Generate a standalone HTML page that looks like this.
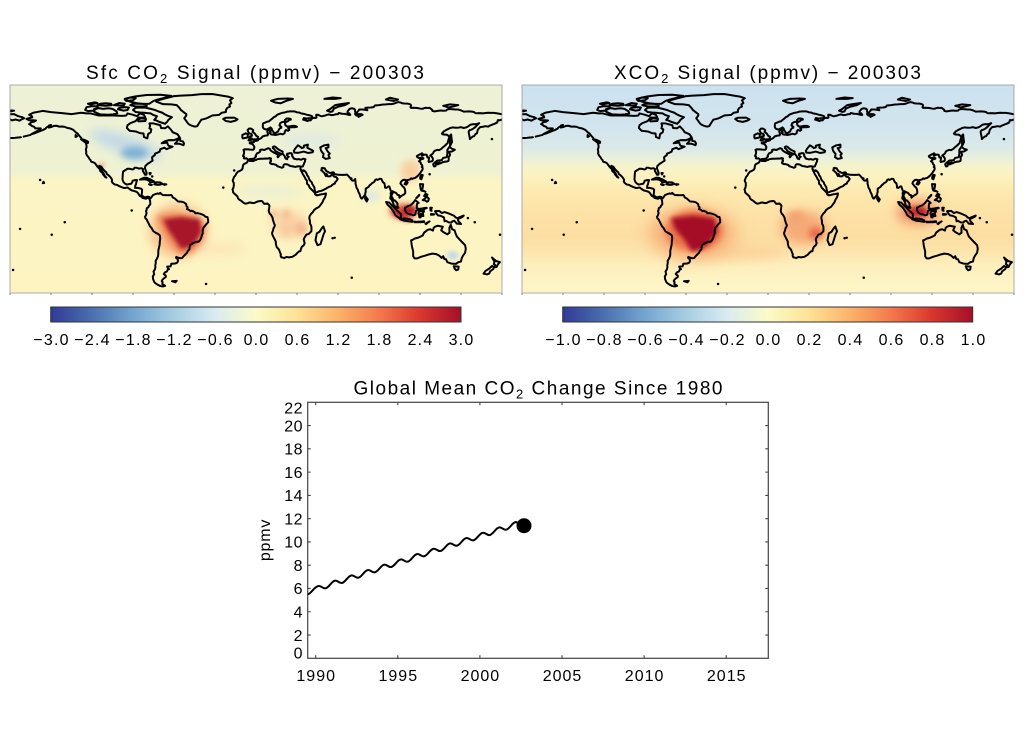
<!DOCTYPE html>
<html><head><meta charset="utf-8"><style>
html,body{margin:0;padding:0;background:#fff;}
svg{display:block;}
text{font-family:"Liberation Sans",Arial,sans-serif;fill:#000;}
</style></head><body>
<svg width="1024" height="731" viewBox="0 0 1024 731" xmlns="http://www.w3.org/2000/svg">
<defs>
<linearGradient id="bgL" x1="0" y1="0" x2="0" y2="1">
<stop offset="0" stop-color="#edf1d6"/><stop offset="0.42" stop-color="#eff2d2"/><stop offset="0.46" stop-color="#fbf4c4"/><stop offset="1" stop-color="#fdf4c2"/>
</linearGradient>
<linearGradient id="bgR" x1="0" y1="0" x2="0" y2="1">
<stop offset="0" stop-color="#cce1f0"/><stop offset="0.2" stop-color="#d2e5ee"/><stop offset="0.3" stop-color="#dae8e8"/><stop offset="0.347" stop-color="#e7efdc"/><stop offset="0.387" stop-color="#f4f3cc"/><stop offset="0.433" stop-color="#fcf2c1"/><stop offset="0.5" stop-color="#fdebb3"/><stop offset="0.567" stop-color="#fde5aa"/><stop offset="0.633" stop-color="#fde1a6"/><stop offset="0.733" stop-color="#fcdea1"/><stop offset="0.8" stop-color="#fde4ad"/><stop offset="0.867" stop-color="#fdefbd"/><stop offset="0.933" stop-color="#fdf3c3"/><stop offset="1" stop-color="#fef6c8"/>
</linearGradient>
<linearGradient id="cbar" x1="0" y1="0" x2="1" y2="0">
<stop offset="0" stop-color="#313a96"/><stop offset="0.1" stop-color="#4a6fb0"/><stop offset="0.2" stop-color="#74a5cf"/><stop offset="0.3" stop-color="#a6cde3"/><stop offset="0.4" stop-color="#d8ecf1"/><stop offset="0.5" stop-color="#fbfbc8"/><stop offset="0.6" stop-color="#fee295"/><stop offset="0.7" stop-color="#fbb36a"/><stop offset="0.8" stop-color="#f47a4b"/><stop offset="0.9" stop-color="#d9382d"/><stop offset="1" stop-color="#a50f2a"/>
</linearGradient>
<filter id="b1" filterUnits="userSpaceOnUse" x="-200" y="-100" width="400" height="200"><feGaussianBlur stdDeviation="1.5"/></filter>
<filter id="b2" filterUnits="userSpaceOnUse" x="-200" y="-100" width="400" height="200"><feGaussianBlur stdDeviation="2.5"/></filter>
<filter id="b3" filterUnits="userSpaceOnUse" x="-200" y="-100" width="400" height="200"><feGaussianBlur stdDeviation="4"/></filter>
<filter id="b4" filterUnits="userSpaceOnUse" x="-200" y="-100" width="400" height="200"><feGaussianBlur stdDeviation="6"/></filter>
<clipPath id="clipL"><rect x="10" y="85" width="492" height="208"/></clipPath>
<clipPath id="clipR"><rect x="522" y="85" width="492" height="208"/></clipPath>
<g id="coast" fill="none" stroke="#000" stroke-width="1.45" stroke-linejoin="round" stroke-linecap="round">
<path d="M-166,-68.5 L-163,-70 -156,-71.3 -150,-70.4 -141,-69.6 -135,-69 -128,-70 -124,-69.5 -121,-69.5 -115,-68 -108,-68 -104,-68 -98,-67.7 -95,-68 -94,-69.5 -90,-68.5 -87,-67.5 -85,-69.5 -82,-68.5 -81,-66.5 -86,-66.5 -88,-64 -92,-62.5 -94,-61 -94.5,-59 -92.5,-57 -88,-56.5 -85,-55.3 -82.3,-55 -82,-52.5 -79.5,-51.5 -79,-54.5 -77,-56 -76.6,-58 -78,-58.8 -77.5,-60.5 -78,-62.3 -75,-62.3 -72,-61.5 -70,-61 -69.5,-59 -66.5,-58.8 -64.5,-60.2 -62,-57.5 -61,-56 -57.5,-54.5 -56,-52.5 -57,-51.4 -60,-50.2 -64,-50.2 -67,-49.3 -69,-48 -65,-48.5 -64.5,-47 -64,-46.2 -61,-45.5 -65.5,-43.7 -67,-44.8 -70,-43.7 -70.5,-42 -72,-41.2 -74,-40.5 -74,-39.5 -75,-38.8 -76,-38 -76,-37 -75.6,-35.5 -77,-34.6 -78,-33.9 -79.5,-33 -81,-31.5 -81.3,-30 -80.5,-28 -80,-26.5 -80.2,-25.3 -81.2,-25.3 -82,-26.8 -82.8,-28 -82.7,-29.5 -84,-30 -85.5,-29.7 -87.5,-30.3 -89,-30.3 -89.5,-29.3 -90.5,-29.1 -92.5,-29.6 -94,-29.6 -95.5,-28.7 -97.2,-27.6 -97.5,-25.5 -97.6,-23.5 -97.7,-21.8 -97,-20 -96,-19 -94.5,-18.2 -92.5,-18.6 -91.3,-18.8 -90.5,-20 -90.3,-21 -88,-21.5 -87,-21.4 -87.5,-20 -87.8,-18.5 -88.3,-17.5 -88.5,-15.8 -86.5,-15.8 -84,-15.2 -83.3,-14.5 -83.5,-12 -83.8,-10.8 -82.5,-9.5 -81,-8.9 -79.5,-9.5 -78,-9.2 -77.3,-8.2 -76.8,-8.5 -75.5,-10.5 -74.5,-11 -73,-11.5 -72,-11.8 -71,-11.5 -70,-12.2 -69.5,-11.5 -68,-10.6 -66,-10.6 -64,-10.5 -62,-10.7 -61.5,-10.2 -61,-9 -60,-8.5 -59,-7.8 -57,-6 -55,-5.9 -53,-5.5 -52,-4.8 -51,-4 -51,-2.8 -50,-1.8 -50.5,-0.5 -49,0 -48,1 -47,0.7 -45,1.5 -44.5,2.5 -43,2.4 -41,2.8 -39,3.5 -38,4 -37,5 -35.5,5.3 -35,7.5 -35,9 -36,10 -37,11.2 -38.5,13 -39,15 -39,17 -39.5,18 -40,20 -41,22 -42,23 -44,23 -45,23.6 -47,24.5 -48.3,25.5 -48.6,27 -48.7,28.5 -49.8,29.5 -50.5,31 -52,32.5 -53.3,33.8 -54,34.8 -55.5,34.9 -57,34.5 -58.3,34 -58.5,34.6 -57.5,35.5 -57,36.5 -57.5,38 -59,38.7 -62,38.9 -62.2,40 -62.5,40.8 -65,41 -64.3,42.5 -63.6,42.8 -64.5,43 -65.2,44.5 -66.5,45 -67.5,46.3 -66,47.5 -66,48.5 -67.5,49.5 -68.5,50.5 -69,51.5 -68.3,52.3 -68.6,53.5 -66.5,54.8 -68,55.3 -70,55 -72,54 -73.5,53 -74.5,52 -75.3,50 -75.5,48 -74.5,46.5 -75,44.5 -74,43 -73.6,41.5 -73.7,40 -73.3,38 -73.5,37 -72.6,35.5 -71.7,33.5 -71.5,32 -71.5,30 -71.3,28.5 -70.9,27 -70.5,25 -70.4,23 -70.1,21 -70.2,19 -70.6,18.2 -71.5,17.5 -73.5,16.5 -75,15.5 -76,14 -76.5,13 -77.5,12 -78.5,10 -79.5,8 -80,7 -81,6 -81.2,5 -80.5,4 -80.3,3 -80,2.3 -80.5,1 -80,0 -80,-1 -79.5,-1.5 -78.8,-1.7 -78.5,-2.6 -77.3,-4 -77.5,-6.5 -77.8,-7.5 -78.4,-8.3 -79.5,-8.6 -80.5,-8 -81.5,-8.2 -83,-8.5 -83.6,-9.4 -85,-10 -85.7,-11 -86.5,-12.3 -87.5,-13 -89,-13.5 -91,-14 -92.5,-15 -94,-16.1 -95.5,-15.8 -96.5,-15.7 -98,-16.2 -100,-17 -101.5,-17.9 -103.5,-18.3 -105,-19.5 -105.5,-20.5 -105.3,-21.5 -105.7,-22.5 -106.5,-23.5 -108,-25 -109.2,-25.8 -109.5,-27 -110.5,-27.8 -111.5,-28.8 -112.5,-30 -113,-31 -114.7,-31.7 -114.2,-30.5 -113.2,-29 -112.5,-27.5 -111.6,-26.5 -111,-25 -110.3,-24 -109.5,-23.2 -110.2,-23.5 -111,-24.5 -112,-25.5 -112.3,-26.5 -114,-28 -114.2,-29.3 -115.5,-30.5 -116.5,-31.8 -117.2,-32.7 -117.6,-33.4 -118.5,-34 -119.5,-34.4 -120.6,-34.6 -121,-35.7 -122,-36.9 -122.5,-37.8 -123.1,-38.5 -123.8,-39.5 -124.3,-40.5 -124.2,-42 -124.5,-43.5 -124,-45 -124,-46.5 -124.5,-48 -124.7,-48.4 -123,-48.2 -122.8,-49 -123.5,-49.5 -124.5,-50 -125.5,-50.4 -127.5,-51 -128,-52 -129,-53 -130,-54.2 -130.5,-55 -131.5,-55.5 -132.5,-56.5 -133.5,-57.5 -135,-58.3 -136.5,-58.8 -138,-59 -140,-59.8 -142,-60.1 -144,-60 -146,-60.6 -148,-60.5 -149.5,-59.8 -151.5,-59.3 -151.5,-60.8 -150,-61.2 -152,-60.2 -153.5,-59.2 -154,-58.5 -156,-57.5 -158,-56.8 -160,-56 -162,-55.2 -164.5,-54.5 -162,-55.8 -160,-56.8 -158,-57.8 -157.5,-58.7 -159,-58.7 -161.5,-58.7 -162.2,-59.8 -164,-60.5 -165,-61.3 -166,-61.8 -165,-62.5 -164.5,-63.2 -162.5,-63.5 -161,-64.4 -163,-64.6 -166,-64.6 -168,-65.6 -165.5,-66.2 -163.7,-66.6 -164,-67.5 -166,-68.5"/>
<path d="M32.5,-30 L32.6,-29 33.5,-27.3 34.2,-25.8 35.4,-24 36.4,-22 37.2,-21 37.4,-18.7 38.5,-17.8 39.3,-15.9 40.5,-14.8 41.5,-13.8 42.5,-12.8 43.3,-11.8 43.3,-11.1 44.5,-10.4 46,-10.7 47.5,-11.1 49,-11.3 51.2,-11.8 51,-10.5 50.5,-9 49.5,-7.5 48.8,-5.8 48,-4.6 47,-3.2 46,-2 44,-1 42.5,0.2 41.5,1.8 40.5,2.7 39.7,3.8 39.2,4.7 39,6 39.3,7.2 39.5,8.5 39.5,10 40,10.7 40.5,12 40.6,14 40.5,15.5 39.5,16.5 38.5,17.5 37,17.8 36.5,18.5 35.5,20 34.9,21.5 35.3,22.8 35.6,24 35,25.5 33.5,26.7 32.8,28.5 32.5,29.8 31.5,30 30,31.3 29,32.5 28,33 27,33.7 26.5,33.9 24,34.3 22.5,34 20.5,34.8 19.5,34.4 18.4,34.2 18,33 18.2,32 17.5,30.7 17,29 16.2,28 15.2,27 14.9,26 14.5,24.5 14.5,23 14,21.9 13.4,20.8 12.8,19.6 12.2,18.5 11.8,17.3 11.8,16.5 12.2,15.6 12.6,14.3 12.8,13.3 13.5,12.3 13.8,11 13.2,9.8 12.9,8.8 12.3,7 12.2,6 12,5.5 11.3,4.3 11,3.7 10,2.7 9.5,1.5 9.3,0.6 9.5,-0.5 9.6,-1 9.8,-2.5 9.8,-3.1 9.2,-3.8 8.5,-4.5 7,-4.4 6,-4.3 5,-5.6 4.3,-6.3 3,-6.3 2,-6.2 1,-5.9 0,-5.5 -1,-5 -2,-4.8 -3,-5 -4,-5.3 -5,-5.2 -6,-4.8 -7.5,-4.4 -8.5,-4.7 -9.4,-5.3 -10.5,-6.2 -11.5,-6.9 -12.5,-7.5 -13.2,-8.3 -13.5,-9.5 -14.5,-10.5 -15,-11 -16,-11.8 -16.7,-12.5 -16.8,-13.5 -17.2,-14.7 -16.7,-15.5 -16.4,-16.5 -16.2,-18 -16.3,-19.5 -16.9,-20.5 -17,-21.3 -16.5,-22.5 -16,-23.8 -15,-24.8 -14.5,-26 -13.2,-27.5 -12,-28 -10.5,-28.8 -9.8,-29.8 -9.7,-31 -9.3,-32.5 -8.5,-33.2 -7,-33.8 -6.3,-34.5 -6,-35.5 -5.5,-35.8 -4.5,-35.2 -3,-35.3 -2,-35.1 -1,-35.7 0,-35.9 1,-36.5 3,-36.8 5,-36.8 7,-37 8.5,-36.9 10,-37.3 11,-37 10.5,-36 11,-35.5 10.8,-34.8 10.2,-34.3 10.3,-33.7 11,-33.2 12,-32.9 13,-32.9 15,-32.3 15.5,-31.5 17,-31 19,-30.3 20,-30.8 20.1,-32 20.5,-32.7 21.5,-32.9 23,-32.7 24,-32.2 25,-31.6 27,-31.3 29,-30.9 30.5,-31.4 32,-31.3 33.5,-31.1 34.3,-31.3 34.8,-32.5 35.2,-33.5 35.8,-34.8 35.9,-35.8 36.2,-36.5 35.5,-36.6 34.5,-36.8 33,-36.1 32.3,-36.3 31,-36.6 30,-36.3 29,-36.6 27.5,-37 27.3,-37.8 26.5,-38.5 26.4,-39.2 26.6,-39.5 26.2,-40.3 26,-40.8 24.5,-40.9 23.5,-40.3 22.8,-40.5 22.6,-39.5 23.2,-38.6 24,-38.2 23,-37.8 22.8,-36.5 22.3,-36.8 21.7,-36.9 21.2,-37.8 21.1,-38.5 20.2,-39.6 19.5,-40.5 19.4,-41.5 19.5,-42 18.5,-42.5 17,-43.2 15.8,-44 15.2,-44.6 14.5,-45.2 13.8,-45.6 13.1,-45.7 12.3,-45.3 12.4,-44.5 13.6,-43.5 14.1,-42.5 15.2,-41.9 16,-41.4 17.5,-40.8 18.5,-40.1 18.3,-39.8 17,-40.5 16.6,-39.8 17.1,-39 16.6,-38.5 16,-37.9 15.7,-38.3 16.2,-38.9 15.7,-40 15,-40.2 14.1,-40.8 13,-41.3 12.2,-41.8 11.2,-42.4 10.5,-43 10.2,-43.9 9,-44.4 7.5,-43.8 6,-43.1 4.5,-43.5 3,-43.2 3.1,-42 2,-41.2 0.8,-40.7 0,-39.5 -0.3,-38.8 0,-38.6 -0.7,-37.6 -2,-36.7 -3.5,-36.7 -4.5,-36.6 -5.5,-36 -6.3,-36.6 -7,-37.2 -7.9,-37 -8.9,-37.1 -8.7,-38.5 -9.5,-38.8 -8.8,-40.5 -8.7,-42 -9.2,-43.2 -8,-43.7 -6,-43.6 -4,-43.4 -2,-43.3 -1.4,-44 -1.2,-45.5 -2.2,-47 -3,-47.5 -4.6,-48 -4.5,-48.6 -3,-48.8 -1.6,-48.7 -1.3,-49.6 0.2,-49.7 1.5,-50.2 1.6,-51 2.5,-51.1 3.5,-51.5 4.3,-52.2 5,-53 6.5,-53.4 7.5,-53.6 8.5,-53.7 8.8,-54.5 8.5,-55.5 8.2,-56.5 8.5,-57.2 10,-57.6 10.5,-57.5 10.2,-56.5 10.8,-56 10,-55.5 10.8,-54.5 12,-54.2 13,-54.3 14,-53.9 16,-54.3 18,-54.8 19.5,-54.4 21,-55.2 21,-56 21.4,-57 22,-57.6 23.5,-57 24.3,-57.5 24.3,-58.5 23.5,-58.9 23.5,-59.5 25,-59.5 28,-59.5 30,-59.9 28.5,-60.5 26.5,-60.5 24,-60.1 22.5,-60.2 21.5,-61 21.2,-62.5 22,-63.3 23.5,-64 24.5,-64.9 25.5,-65 25.3,-65.6 24,-65.8 22.3,-65.8 21.2,-64.8 21.5,-64.2 20.5,-63.5 19,-63.2 17.8,-62.5 17.4,-61.7 17.2,-60.7 18.5,-60 18.5,-59.2 17.5,-58.8 16.7,-57.8 16.2,-56.5 14.3,-55.4 13,-55.6 12.6,-56.3 11.8,-57.5 11.5,-58.5 10.6,-59.4 10,-59 9,-58.5 8,-58 7,-58 6,-58.3 5.5,-58.8 5,-59.5 5,-60.5 5,-61.5 5.2,-62.3 6.5,-62.8 8,-63.5 9.5,-63.8 10.5,-64.7 12,-65.8 13,-66.8 14.5,-67.5 15.5,-68.5 16.5,-69 18,-69.5 19.5,-70 21,-70.2 23,-70.8 25,-71 26.5,-71 28,-71 30,-70.3 31.5,-70.2 33,-69.5 35,-69.2 37,-68.6 39,-68.2 41,-67.5 41,-66.5 40,-66 38.5,-66 37,-65.8 35,-66.2 34.5,-65 36.5,-64.5 37.5,-64 38.5,-64.5 40,-64.5 40.5,-65.3 42,-66.4 43.5,-66.2 44.3,-66.5 44,-68.5 45.5,-68.5 46.5,-68 47.3,-67.6 48,-67.5 50,-67.8 52,-68.5 53.5,-68.8 55,-68.3 57,-68.5 58.5,-68.9 60,-69 60.5,-69.8 63,-69.3 65,-69.2 67,-68.7 68.5,-68.3 69,-68.5 68.3,-69.5 67,-70 67,-71 68.5,-72.8 70,-73.2 72,-72.8 72.5,-72 72.5,-71 72.8,-70.2 72.5,-69 73.5,-68 74.5,-68.3 75,-67 77,-68 78,-68.5 77,-69 74,-69 73.7,-70 75,-71.5 75.5,-72.3 78,-72.3 80,-72.1 81.5,-71.8 80,-73.5 82,-73.7 84,-73.8 86,-74 86.5,-74.6 87,-75.2 90,-75.5 93,-75.9 95,-76 97,-76.2 99,-76.2 101,-76.6 104,-77.7 106,-77.3 107,-76.8 108.5,-76.7 111,-76.6 113,-76 113.5,-75.3 113,-74 113.5,-73.5 115,-73.6 118,-73.4 120,-73 122,-72.9 124,-73.6 126,-73.4 127,-73.6 129,-72 129,-71.3 130.5,-71 132,-71.2 133.5,-71.4 135,-71.6 137,-71.4 139,-71.5 139.8,-72.3 141.5,-72.7 143,-72.6 146,-72.3 148,-72.3 150,-71.7 152,-70.8 154,-70.9 156,-71 158,-70.8 159.5,-70.5 160.5,-69.7 162,-69.6 164,-69.7 166,-69.5 168,-69.8 170,-70 172,-69.9 174,-69.9 176,-69.6 178,-69.3 180,-68.9"/>
<path d="M180,-65.2 L178.7,-64.6 177,-64.7 176.5,-63 174.5,-62 173,-61.5 171,-60.7 170,-60 168,-60.3 166,-59.9 164,-59.6 163,-58.6 162.3,-57.8 162,-56.5 161.7,-55.3 160.5,-54.5 159.7,-53.2 158.5,-52.8 157,-51.5 156.5,-51 156.3,-52.5 156,-54 155.7,-55.3 155.6,-56.5 156.5,-57.5 157.5,-57.8 158.5,-58.2 160,-59.3 161,-60.2 162.5,-61.7 163.3,-62.5 162,-62 160,-61.6 159.3,-61.8 157,-61.4 155,-60 153.5,-59.3 152,-59 150,-59.6 148.5,-59.3 146,-59.2 144,-59.4 142,-59 140.5,-58.2 139,-57.5 137.5,-56.6 136,-55 136.5,-54.5 138,-54.2 139.5,-54.2 141,-53.2 141.5,-52.4 141,-51 140.5,-49.5 140.3,-48.2 139,-47 138,-46 137,-45.3 135.5,-43.9 134,-43 132.5,-43.2 131,-42.6 130.5,-42.3 130,-41.8 129.6,-40.8 129.2,-40.4 128,-39.5 127.5,-39.2 128.2,-38.6 129,-37.8 129.4,-37 129.4,-36 129.2,-35.2 128.5,-35 127.5,-34.7 126.5,-34.4 126.2,-35 126.5,-36 126.5,-37 126.6,-37.7 125.5,-37.7 125.2,-38.5 125,-39.5 124.5,-39.8 123.5,-39.8 122.2,-39.3 121.5,-39 121.2,-39.5 122,-40.3 121.5,-40.8 120.5,-40.2 119.5,-39.8 118.5,-39.2 117.7,-38.8 118,-38 118.8,-37.6 119.5,-37.2 120.5,-37.5 121.5,-37.5 122.5,-37.2 122.3,-36.8 121,-36.5 120.2,-35.9 119.3,-35 120.3,-34.3 120.8,-33 121.5,-32.2 121.8,-31.5 121.3,-30.8 121.9,-30.3 122,-29.5 121.6,-28.5 120.8,-27.5 120.2,-26.5 119.6,-25.8 119.2,-25.3 118.5,-24.6 117.5,-23.8 116.5,-23 115.5,-22.8 114.2,-22.3 113.5,-22.7 112.5,-21.8 111,-21.5 110.3,-20.8 110.5,-20.3 110,-20.2 109.7,-21.5 108.5,-21.7 107.5,-21.5 106.7,-20.8 106,-20 105.7,-19 106.5,-18 107.2,-17 108.2,-16.2 108.8,-15.3 109.2,-13.5 109.2,-12 108.5,-11.2 107.2,-10.5 106,-9.8 105,-8.7 104.8,-9.5 104.8,-10.5 103.5,-10.8 102.5,-12.2 101,-12.8 100,-13.4 100.1,-12.3 99.3,-10.8 99.1,-9.5 99.8,-8.8 100.3,-7.5 100.8,-6.8 101.7,-6.8 102.3,-6 103,-5.3 103.5,-4.5 103.5,-3 103.7,-2.3 104.2,-1.5 103.5,-1.4 102.5,-2 101.3,-2.8 100.6,-3.8 100.3,-5 100.2,-5.8 99.5,-6.5 99,-7.8 98.3,-8 98.3,-9 98.7,-10.5 98.5,-12 99.1,-13 98.5,-14 97.7,-16.5 97.2,-17 96.5,-16.7 95.5,-15.8 94.4,-16 94.3,-17.5 94,-19 93,-19.8 92.4,-20.7 91.8,-22.2 90.5,-22.4 89.5,-21.8 88.8,-21.6 88,-22 87,-21.3 86.8,-20.5 86,-19.8 85,-19.3 84,-18.3 83,-17.5 82.3,-16.5 81.2,-15.8 80.3,-15.3 80.2,-14 80.3,-13 79.9,-11.8 79.8,-10.3 79.2,-10.2 78.8,-9.5 78.2,-8.9 77.5,-8.1 77,-8.3 76.6,-8.9 76.2,-10 75.8,-11.3 75,-12.8 74.7,-13.8 74.3,-14.8 73.5,-16 73.3,-17.3 72.8,-18.8 72.9,-20 72.6,-21.3 72.6,-22.2 71.5,-21 70.5,-21 69.2,-22.3 70,-22.7 68.8,-23 68.2,-23.7 67.5,-24.5 67,-25 66.5,-25.4 64.5,-25.2 62,-25.2 61.5,-25.2 59.5,-25.4 58,-25.6 57.3,-25.8 57,-26.8 56.4,-27.1 55.5,-26.9 54.7,-26.5 53.5,-26.8 52.5,-27.4 51.5,-27.9 50.8,-28.9 50.2,-30 49.5,-30 48.8,-30.3 48,-30 48.2,-29.3 47.7,-28.5 48.5,-28 48.8,-27.6 49.5,-27 50.2,-26.3 50.5,-25.5 50.8,-24.8 51.3,-24.3 51.6,-25.2 51.6,-25.9 52.5,-24.2 53.5,-24.1 54.5,-24.3 55.5,-25.5 56,-26.1 56.3,-26.2 56.4,-24.9 57.3,-23.9 58.7,-23.6 59.5,-22.6 59.8,-22.3 59.3,-21.4 58.5,-20.4 57.8,-19.8 57.7,-18.9 56.8,-18.6 55.7,-17.9 55,-17.1 53.6,-16.6 52.2,-15.9 51.2,-15.2 49.6,-14.5 48.7,-14 47.4,-13.6 45.8,-13.3 45,-12.8 44,-12.6 43.5,-12.6 43.2,-13.2 43,-14.1 42.8,-15.3 42.6,-16.5 42,-17.3 41.2,-18.6 40.8,-19.8 39.8,-20.8 39.1,-21.6 38.6,-23 38.2,-24 37.5,-24.8 37.1,-25.9 36.6,-26.9 35.6,-28 34.9,-28.5 34.6,-28.1 34.2,-27.8 33.8,-28.4 33.2,-28.6 32.6,-29.5 32.5,-30"/>
<path d="M-180,-68.9 L-177,-69 -174,-67.5 -171,-66.8 -169.7,-66 -171,-65.5 -173,-64.3 -176,-65.1 -178.5,-64.5 -180,-65.2"/>
<path d="M28,-41.2 L31,-41.1 35,-42 38,-41 41.5,-41.5 41.8,-42.6 40,-43.5 37.5,-44.7 38,-47 35,-46.2 35,-45 33.5,-44.5 32.5,-45.4 30.7,-46.5 29.6,-45.2 28.6,-44 27.7,-42.5 Z M47,-45 L50,-46.5 53,-47 53,-45 51,-44.5 52.5,-42 54,-40.5 53,-39.5 54,-37.3 51,-36.7 49,-38 49.5,-40.2 48,-42 47.5,-43 Z"/>
<path d="M-73,-78 L-68,-76.2 -62,-76 -58,-75.5 -56,-73.5 -55,-72 -53,-70.5 -51,-69 -51,-68 -52.5,-66 -51,-64 -49.5,-62 -48,-61 -45,-60 -43,-60.3 -42,-62 -41,-63.5 -40,-65 -37,-65.7 -35,-66.5 -32,-68 -27,-68.5 -25,-70 -22,-70.5 -22,-72 -21,-73.5 -19,-74.5 -19.5,-76 -18,-77 -19,-79 -17,-80.5 -20,-81.5 -25,-82.3 -32,-83.5 -40,-83.4 -47,-82.7 -55,-82.3 -60,-82 -64,-81 -67,-80.2 -72,-78.8 Z
M-61.5,-66.8 L-64,-65 -65,-63.5 -66.5,-62 -68.5,-62.7 -71,-63.5 -73,-64.5 -74.5,-64.8 -73,-66.5 -72.5,-67.5 -75,-68.3 -77,-69.5 -79.5,-69.7 -82,-70 -85,-70.2 -88,-70.5 -90,-72 -88,-73.6 -85,-73.8 -81,-73.7 -77,-72.8 -74,-72 -71,-70.8 -68.5,-70 -67,-69 -64.5,-67.8 Z
M-86,-63.8 L-81,-64 -80.5,-65.5 -84,-66 -87,-64.8 Z
M-118,-70.5 L-114,-68.8 -108,-68.5 -104.5,-68.8 -101.5,-69.5 -102,-71 -105,-72.8 -108,-73.2 -112,-72.8 -115,-73.3 -118.5,-72.6 -119,-71.3 Z
M-125,-72 L-124,-74 -120,-74.8 -116,-74.5 -115.5,-73.5 -119,-71.5 -123,-71.2 Z
M-116,-75.5 L-110,-75 -105.5,-75.5 -106,-76.5 -110,-76.8 -114,-76.5 Z
M-104,-75.5 L-97,-75 -96,-76.5 -100,-77 Z
M-101,-72.5 L-97,-71.5 -94,-72 -93,-73.8 -96,-74 -100,-73.5 Z
M-80,-74.6 L-88,-74.5 -92,-75.5 -90,-76.5 -84,-76.6 -80,-75.8 Z
M-78,-76.5 L-75,-78.5 -72,-79.5 -68,-80.5 -62,-82.2 -70,-83 -80,-82.8 -88,-81.8 -93,-80.8 -96,-79.5 -92,-78 -88,-77 -84,-76.4 Z
M-95,-78.5 L-90,-79 -88,-80.5 -92,-81 -96,-80 Z
M-121,-76 L-116,-77 -118,-77.5 -123,-76.5 Z
M-59.3,-47.6 L-56,-47.6 -53,-46.6 -52.7,-48 -53.5,-49.3 -55.5,-49.8 -55.5,-51.6 -57,-50.5 -58,-49 Z
M-22,-64 L-24,-65.5 -22,-66.4 -16,-66.5 -13.5,-65.2 -15,-64.3 -18.5,-63.4 Z
M-5.5,-50.1 L-3,-50.6 1,-51 1.5,-52.7 0,-53.5 -0.5,-54.5 -1.5,-55.5 -2.5,-56.2 -2,-57.5 -3.5,-58.5 -5,-58.6 -6.2,-57.5 -5.5,-56 -5,-55 -3.5,-54.8 -3,-54 -3,-53.3 -4.5,-52.9 -4.2,-52.2 -5,-51.7 -3,-51.4 -4.5,-51.2 Z
M-6,-52.2 L-6,-53.5 -6,-54.5 -7.5,-55.2 -8.5,-54.6 -10,-54 -10,-52 -9.5,-51.5 -8,-51.8 Z
M11,-78.7 L16,-80 23,-80.3 27,-80 22,-78.5 18,-76.8 14,-77.4 Z
M52,-71.5 L54,-72.5 56,-74 58,-75.5 62,-76.2 68,-77 65,-75.5 60,-74.3 57,-73 56,-71 54.5,-70.6 Z
M50,-80 L56,-81 62,-80.5 58,-80 Z
M95,-79.5 L98,-80.8 104,-79.5 101,-78.5 Z
M137,-75 L142,-76 148,-75.5 141,-73.8 Z
M-179.5,-71 L-177,-71.5 -179.5,-71.6 Z
M142,-46 L143.5,-49 143,-52 142.8,-54.3 142.3,-54 141.8,-52 142,-48 Z
M140,-41.5 L140,-43.2 141.5,-45.4 143.5,-44 145.5,-43.3 143.3,-42 141,-41.8 Z
M130.9,-34 L132.5,-35.5 136,-35.8 136.8,-37.3 139.5,-38 140,-40 140,-41.3 141.5,-41.3 142,-39.5 141,-38 141,-36 140.8,-35.2 139.5,-34.8 137,-34.5 135,-33.5 133,-33.9 131,-33.8 Z
M130,-33.5 L131.9,-33.9 131.3,-31.4 130.2,-31.3 129.6,-32.8 Z
M132.5,-33.2 L134.5,-34.2 134.5,-33.5 133,-32.7 Z
M120.2,-22.5 L120.1,-23.5 121,-25.2 122,-25 121,-22 Z
M108.7,-18.5 L109.5,-20 111,-19.7 110,-18.2 Z
M120,-18.5 L122.3,-18.4 122,-16 121.5,-14.2 124,-13 122.5,-13.6 121,-13.8 120.5,-15 Z
M122,-7 L123.5,-8 125,-9.5 126.5,-8 126,-6.3 125,-5.8 123.8,-6.8 Z
M123,-10 L124,-11.5 125.5,-11 124,-9.5 Z
M117.2,-8.4 L119.5,-10.8 119.3,-10.2 117.5,-8.5 Z
M79.8,-8 L80,-9.8 81.8,-7.5 81,-6 Z
M49.3,12 L50.5,15.5 49.5,17.5 47.2,24.8 45,25.5 43.5,22 44.5,17 46.5,15.8 48,13.5 Z
M95.2,-5.6 L97.5,-5.2 100.4,-2.2 103.8,1 106,3 106,5.8 104.5,5.8 102,4 100.5,1 98.5,-1.7 96.2,-3.7 Z
M105.5,6.8 L108,6.3 111,6.5 113,6.9 114.5,7.7 114.5,8.7 111,8.2 108,7.8 Z
M116,8.5 L117.5,8.7 119,8.5 119,9 116,9 Z
M119.5,8.6 L123,8.3 123,8.8 120,9 Z
M124,10 L127,8.4 126,9 124.5,10.3 Z
M109,-1.5 L110,-1.9 111.5,-2.8 113,-3.2 115,-5 116.5,-7 117.7,-6 119,-5 118,-4.5 117.7,-3.5 117.6,-1 119,-0.8 118.5,0 117,1 116.5,3.5 115,4 114,3.5 111.5,3 110,2 109,0 Z
M120,-0.7 L124.5,-1.5 125,-1.3 123,-0.5 121,-0.5 120.5,1 123,1 122,2.5 122.5,4.5 121.5,4.5 120.5,2.8 120.5,5.5 119.5,5.5 119.3,3.5 118.8,2.8 119.8,0.1 Z
M127.5,-1.5 L128.7,-1.5 128,0 128.5,0.7 127.7,0.5 Z
M128,3 L130.5,3.2 130,3.5 128,3.6 Z
M131,1 L134,0.8 136,2.3 138,1.6 141,2.6 145,4.3 146,5.5 147.5,6 148,8 150,10.2 147,10 145,7.8 143.5,8.5 143,9.2 141,9.1 139,8 138,8.3 137.5,5.5 135,4.3 133,4 132,2.5 Z
M148.5,5.5 L152,4.2 151,5.2 149,6.2 Z
M113.5,22 L114,26 115,30 115,33.5 116,35 118,35 121,33.8 124,33 126,32.3 129,31.6 132,32 134,33 135.8,34.7 137,33.5 137.8,35.5 139,35.7 140,37.8 143,38.8 146.3,39 148,37.8 150,37.3 150.5,35 151.5,33 153,31 153.5,28 153,25.5 151,23.5 149.5,22 147,19.3 146,17 145.3,14.8 143.5,14 142.5,10.8 141.5,13 141.6,16.5 140,17.7 137,16 135.5,14.8 136.7,12.2 133,11.5 131,12.2 130,13 129.5,15 127.5,14 125.5,14.5 123,16.5 122,18.5 119,20 116,20.8 114,22 Z
M144.7,40.7 L148.3,41 148,43 146.5,43.6 145.3,42.4 Z
M172.7,34.4 L174.5,36 175.8,37 178.5,37.7 177,39.3 176,41.3 174.8,41.3 175,39.8 174,39.2 174.5,37.5 Z
M172.7,40.5 L174.3,41.5 173.5,42.8 171.3,44.4 170.7,45.9 169,46.6 166.5,46 168,44 170.5,42.5 Z
M-85,-21.8 L-82,-23.1 -80,-23.1 -77,-21.8 -74.2,-20.2 -77.5,-19.8 -78,-20.8 -80,-21.8 -82,-22 Z
M-74.5,-18.4 L-72.5,-19.9 -70,-19.7 -68.3,-18.6 -70,-18.2 -72,-18 Z
M-78.3,-18.4 L-76.2,-18 -77,-17.8 Z
M-67.2,-18.5 L-65.6,-18.3 -67.2,-18 Z
M-78,-26.5 L-77,-26.5 -77.5,-25.5 Z
M-128,-50.8 L-125,-50 -123.5,-48.4 -125,-48.7 Z
M-132,-54 L-131,-53 -132,-52.5 Z
M-156,-19.2 L-155,-19.3 -155.5,-20.2 Z
M-61.5,51.5 L-58,51.3 -59,52.3 Z
M-165,-54 L-170,-52.8 M-172,-52.3 L-176,-52 M-177,-51.8 L-180,-51.8"/>
<path stroke-width="1.8" d="M-172.7,13.8 l0.1,0 M-149.5,18 l0.1,0 M-177.8,43.4 l0.1,0 M-36.6,53.5 l0.1,0 M56,20.5 l0.1,0 M70,49 l0.1,0 M172.6,-51 l0.1,0 M127,-25.6 l0.1,0 M178.5,18 l0.1,0 M-91,0.5 l0.1,0 M-24,-16 l0.1,0 M-16,-28.3 l0.1,0 M155,6 l0.1,0 M160,9 l0.1,0 M-158,-21.5 l0.1,0 M-76,-24 l0.1,0 M57.5,20.2 l0.1,0 M-140,9 l0.1,0"/>
</g>
</defs>

<!-- LEFT MAP -->
<g clip-path="url(#clipL)">
<g transform="translate(10,85) scale(1.366667,1.386667) translate(180,90)">
<rect x="-180" y="-90" width="360" height="150" fill="url(#bgL)"/>
<g filter="url(#b3)">
<ellipse cx="-95" cy="-47" rx="28" ry="6.5" fill="#c3d9e8" transform="rotate(18 -95 -47)"/>
<ellipse cx="40" cy="-50" rx="22" ry="5" fill="#e0eae2"/>
<ellipse cx="10" cy="-13" rx="25" ry="3.5" fill="#e6eeda"/>
<ellipse cx="-57" cy="15" rx="21" ry="19" fill="#f8c08a"/>
<ellipse cx="25" cy="11" rx="13" ry="9" fill="#f9cfa3"/>
<ellipse cx="-25" cy="28" rx="18" ry="3" fill="#fbe0b0"/>
</g>
<g filter="url(#b2)">
<ellipse cx="-89" cy="-41" rx="10" ry="4.5" fill="#7fb1d6"/>
<ellipse cx="113" cy="-28" rx="7" ry="8" fill="#f9d0a0"/>
<ellipse cx="84" cy="-10" rx="7" ry="4" fill="#dde9e4"/>
<polygon points="-73,4 -60,2 -44,5 -37,10 -39,22 -47,31 -55,33 -62,26 -69,15" fill="#ee8356"/>
<ellipse cx="108" cy="1" rx="10" ry="5" fill="#e0503a"/>
<ellipse cx="13" cy="3" rx="3" ry="3" fill="#f5b185"/>
<ellipse cx="22" cy="3" rx="3" ry="3" fill="#f4ae85"/>
<ellipse cx="33" cy="14" rx="4" ry="4" fill="#f4b088"/>
<ellipse cx="22" cy="16" rx="3" ry="3" fill="#f8c49a"/>
</g>
<g filter="url(#b1)">
<polygon points="-68,7 -55,5 -41,7 -40,16 -44,23 -49,27 -55,28 -59,22 -64,15" fill="#a8142c"/>
<ellipse cx="112" cy="0.5" rx="5" ry="3" fill="#b2182b"/>
<polygon points="99,-3 104,1 110,5 114,7 112,8.5 105,6 100,2" fill="#b81c2c"/>
<ellipse cx="144" cy="33" rx="4" ry="3" fill="#bed7ea"/>
<ellipse cx="-113" cy="-32" rx="2.5" ry="2.5" fill="#f4b88f"/>
</g>
<use href="#coast"/>
</g>
</g>
<rect x="10" y="85" width="492" height="208" fill="none" stroke="#999" stroke-width="0.8"/>
<path stroke="#777" stroke-width="1" d="M10,293v2 M51,293v2 M92,293v2 M133,293v2 M174,293v2 M215,293v2 M256,293v2 M297,293v2 M338,293v2 M379,293v2 M420,293v2 M461,293v2 M502,293v2 M522,293v2 M563,293v2 M604,293v2 M645,293v2 M686,293v2 M727,293v2 M768,293v2 M809,293v2 M850,293v2 M891,293v2 M932,293v2 M973,293v2 M1014,293v2"/>

<!-- RIGHT MAP -->
<g clip-path="url(#clipR)">
<g transform="translate(522,85) scale(1.366667,1.386667) translate(180,90)">
<rect x="-180" y="-90" width="360" height="150" fill="url(#bgR)"/>
<g filter="url(#b3)">
<ellipse cx="-30" cy="30" rx="45" ry="6" fill="#fbd49a"/>
<ellipse cx="26" cy="13" rx="17" ry="12" fill="#f5aa78"/>
<ellipse cx="110" cy="2" rx="16" ry="9" fill="#f2956a"/>
</g>
<g filter="url(#b4)">
<ellipse cx="-55" cy="17" rx="32" ry="18" fill="#f7b27b"/>
</g>
<g filter="url(#b2)">
<ellipse cx="-54" cy="15" rx="21" ry="15" fill="#ec744a"/>
<ellipse cx="35" cy="17" rx="5" ry="4" fill="#e5603f"/>
<ellipse cx="20" cy="5" rx="6" ry="4" fill="#f3a070"/>
</g>
<g filter="url(#b1)">
<polygon points="-71,6 -55,4 -39,6 -37,16 -43,24 -50,29 -56,30 -61,22 -68,14" fill="#a50f26"/>
<ellipse cx="109" cy="1.5" rx="8" ry="4" fill="#cc2f2f"/>
<ellipse cx="112" cy="0" rx="3" ry="2" fill="#b2182b"/>
</g>
<use href="#coast"/>
</g>
</g>
<rect x="522" y="85" width="492" height="208" fill="none" stroke="#999" stroke-width="0.8"/>

<!-- TITLES -->
<text x="255" y="79" font-size="19" text-anchor="middle" textLength="338" lengthAdjust="spacing">Sfc CO<tspan font-size="13" dy="4">2</tspan><tspan dy="-4"> Signal (ppmv)  −  200303</tspan></text>
<text x="767.5" y="79" font-size="19" text-anchor="middle" textLength="307" lengthAdjust="spacing">XCO<tspan font-size="13" dy="4">2</tspan><tspan dy="-4"> Signal (ppmv)  −  200303</tspan></text>

<!-- COLORBARS -->
<rect x="50.7" y="307" width="410.3" height="15" fill="url(#cbar)" stroke="#333" stroke-width="1"/>
<rect x="562.7" y="307" width="410" height="15" fill="url(#cbar)" stroke="#333" stroke-width="1"/>
<g font-size="16" text-anchor="middle" letter-spacing="1.2">
<text x="51.5" y="345">−3.0</text><text x="92.5" y="345">−2.4</text><text x="133.5" y="345">−1.8</text><text x="174.5" y="345">−1.2</text><text x="215.5" y="345">−0.6</text><text x="256.5" y="345">0.0</text><text x="297.5" y="345">0.6</text><text x="338.5" y="345">1.2</text><text x="379.5" y="345">1.8</text><text x="420.5" y="345">2.4</text><text x="461.5" y="345">3.0</text>
<text x="563.5" y="345">−1.0</text><text x="604.5" y="345">−0.8</text><text x="645.5" y="345">−0.6</text><text x="686.5" y="345">−0.4</text><text x="727.5" y="345">−0.2</text><text x="768.5" y="345">0.0</text><text x="809.5" y="345">0.2</text><text x="850.5" y="345">0.4</text><text x="891.5" y="345">0.6</text><text x="932.5" y="345">0.8</text><text x="973.5" y="345">1.0</text>
</g>

<!-- LINE PLOT -->
<text x="538" y="394.5" font-size="19" text-anchor="middle" textLength="369" lengthAdjust="spacing">Global Mean CO<tspan font-size="13" dy="4">2</tspan><tspan dy="-4"> Change Since 1980</tspan></text>
<rect x="307.7" y="402.3" width="460.6" height="256" fill="none" stroke="#444" stroke-width="1.2"/>
<path stroke="#444" stroke-width="1.1" d="M307.7,635.03h3 M307.7,611.76h3 M307.7,588.48h3 M307.7,565.21h3 M307.7,541.94h3 M307.7,518.67h3 M307.7,495.4h3 M307.7,472.12h3 M307.7,448.85h3 M307.7,425.58h3 M768.3,635.03h-3 M768.3,611.76h-3 M768.3,588.48h-3 M768.3,565.21h-3 M768.3,541.94h-3 M768.3,518.67h-3 M768.3,495.4h-3 M768.3,472.12h-3 M768.3,448.85h-3 M768.3,425.58h-3 M315.7,658.3v-3 M397.8,658.3v-3 M479.9,658.3v-3 M562,658.3v-3 M644.1,658.3v-3 M726.2,658.3v-3 M315.7,402.3v3 M397.8,402.3v3 M479.9,402.3v3 M562,402.3v3 M644.1,402.3v3 M726.2,402.3v3"/>
<g font-size="16" text-anchor="end" letter-spacing="0.5">
<text x="303" y="658.5">0</text><text x="303" y="640.8">2</text><text x="303" y="617.5">4</text><text x="303" y="594.2">6</text><text x="303" y="570.9">8</text><text x="303" y="547.6">10</text><text x="303" y="524.4">12</text><text x="303" y="501.1">14</text><text x="303" y="477.8">16</text><text x="303" y="454.6">18</text><text x="303" y="431.3">20</text><text x="303" y="413.3">22</text>
</g>
<g font-size="16" text-anchor="middle" letter-spacing="1">
<text x="316.2" y="681">1990</text><text x="398.3" y="681">1995</text><text x="480.4" y="681">2000</text><text x="562.5" y="681">2005</text><text x="644.6" y="681">2010</text><text x="726.7" y="681">2015</text>
</g>
<text transform="translate(270,540) rotate(-90)" font-size="16" text-anchor="middle" letter-spacing="0.8">ppmv</text>
<path fill="none" stroke="#000" stroke-width="2" stroke-linejoin="round" d="M307.9,594.3 C311,594 314.5,586 319,586 c2.5,0 3.5,2.37 6.02,2.37 c4,0 6.4,-7.7 10.4,-7.7 c2.5,0 3.5,2.37 6.02,2.37 c4,0 6.4,-7.7 10.4,-7.7 c2.5,0 3.5,2.37 6.02,2.37 c4,0 6.4,-7.7 10.4,-7.7 c2.5,0 3.5,2.37 6.02,2.37 c4,0 6.4,-7.7 10.4,-7.7 c2.5,0 3.5,2.37 6.02,2.37 c4,0 6.4,-7.7 10.4,-7.7 c2.5,0 3.5,2.37 6.02,2.37 c4,0 6.4,-7.7 10.4,-7.7 c2.5,0 3.5,2.37 6.02,2.37 c4,0 6.4,-7.7 10.4,-7.7 c2.5,0 3.5,2.37 6.02,2.37 c4,0 6.4,-7.7 10.4,-7.7 c2.5,0 3.5,2.37 6.02,2.37 c4,0 6.4,-7.7 10.4,-7.7 c2.5,0 3.5,2.37 6.02,2.37 c4,0 6.4,-7.7 10.4,-7.7 c2.5,0 3.5,2.37 6.02,2.37 c4,0 6.4,-7.7 10.4,-7.7 c2.5,0 3.5,2.37 6.02,2.37 c4,0 6.4,-7.7 10.4,-7.7 L524,525.7"/>
<circle cx="524" cy="525.7" r="7.5" fill="#000"/>
</svg>
</body></html>
